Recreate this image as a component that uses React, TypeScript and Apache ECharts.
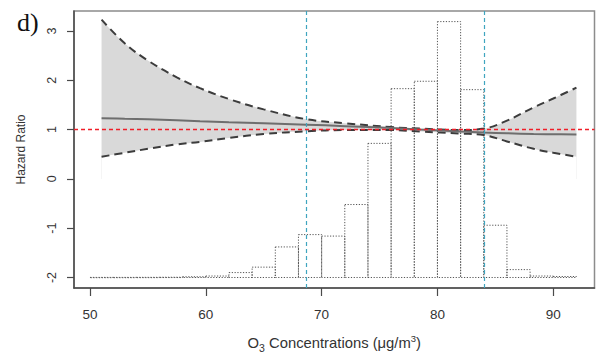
import React, { useEffect, useRef } from "react";
import * as echarts from "echarts";

// Histogram of O3 concentrations (bins of width 2, drawn from baseline -2)
const binStarts = [50, 52, 54, 56, 58, 60, 62, 64, 66, 68, 70, 72, 74, 76, 78, 80, 82, 84, 86, 88, 90];
const binTops = [-1.998, -1.998, -1.997, -1.995, -1.985, -1.97, -1.9, -1.79, -1.38, -1.13, -1.16, -0.52, 0.72, 1.83, 1.98, 3.19, 1.81, -0.94, -1.84, -1.97, -1.98];
const BIN_WIDTH = 2;
const HIST_BASE = -2;

// Hazard ratio curve and its confidence band
const curveX = [51, 53, 55, 57.5, 59.5, 62, 65, 68.7, 72, 76, 78.5, 82, 84, 86, 88.3, 90, 92];
const upperCI = [3.23, 2.75, 2.4, 2.06, 1.84, 1.62, 1.41, 1.21, 1.13, 1.05, 1.02, 0.99, 1.02, 1.18, 1.45, 1.63, 1.85];
const lowerCI = [0.45, 0.53, 0.61, 0.7, 0.75, 0.83, 0.91, 0.965, 0.99, 0.99, 0.96, 0.92, 0.89, 0.76, 0.61, 0.53, 0.45];
const hazard = [1.23, 1.22, 1.21, 1.19, 1.17, 1.15, 1.13, 1.1, 1.07, 1.03, 1.0, 0.96, 0.94, 0.925, 0.91, 0.905, 0.9];

const xTicks = [50, 60, 70, 80, 90];
const yTicks = [-2, -1, 0, 1, 2, 3];
const cutoffs = [68.7, 84.0];
const refHR = 1;

const X_MIN = 48.62;
const X_MAX = 93.56;
const Y_MIN = -2.213;
const Y_MAX = 3.405;

const FONT = '"Liberation Sans", Arial, Helvetica, sans-serif';

const pairs = (ys: number[]) => curveX.map((x, i) => [x, ys[i]]);

export default function App() {
  const ref = useRef<HTMLDivElement>(null);
  useEffect(() => {
    document.body.style.margin = "0";
    const chart = echarts.init(ref.current!, undefined, { renderer: "svg" });
    const option: any = {
      animation: false,
      backgroundColor: "#ffffff",
      grid: {
        left: 74,
        top: 11,
        width: 520.5,
        height: 277.5,
        show: true,
        borderColor: "#8c8c8c",
        borderWidth: 1.5,
        backgroundColor: "transparent",
      },
      xAxis: {
        type: "value",
        min: X_MIN,
        max: X_MAX,
        axisLine: { show: true, onZero: false, lineStyle: { color: "#4a4a4a", width: 1.5 } },
        axisTick: { show: true, length: 8, customValues: xTicks, lineStyle: { color: "#4a4a4a", width: 1.2 } },
        axisLabel: { customValues: xTicks, margin: 19, fontSize: 13.5, color: "#333", fontFamily: FONT },
        splitLine: { show: false },
        name: "O{sub|3} Concentrations (μg/m{sup|3})",
        nameLocation: "middle",
        nameGap: 45,
        nameTextStyle: {
          fontSize: 14.8,
          color: "#333",
          fontFamily: FONT,
          lineHeight: 20,
          rich: {
            sub: { fontSize: 10.5, lineHeight: 12, verticalAlign: "bottom", color: "#333", fontFamily: FONT },
            sup: { fontSize: 9.5, lineHeight: 12, verticalAlign: "top", color: "#333", fontFamily: FONT },
          },
        },
      },
      yAxis: {
        type: "value",
        min: Y_MIN,
        max: Y_MAX,
        axisLine: { show: true, onZero: false, lineStyle: { color: "#4a4a4a", width: 1.5 } },
        axisTick: { show: true, length: 7, customValues: yTicks, lineStyle: { color: "#4a4a4a", width: 1.2 } },
        axisLabel: { customValues: yTicks, rotate: 90, margin: 16, fontSize: 12.5, color: "#333", fontFamily: FONT },
        splitLine: { show: false },
        name: "Hazard Ratio",
        nameLocation: "middle",
        nameRotate: 90,
        nameGap: 47,
        nameMoveOverlap: false,
        nameTextStyle: { fontSize: 12, color: "#333", fontFamily: FONT },
      },
      graphic: [
        {
          type: "text",
          x: 17,
          y: 9,
          style: { text: "d)", font: '26px "Liberation Serif", "Times New Roman", serif', fill: "#111", verticalAlign: "top" },
        },
      ],
      series: [
        {
          name: "upperBand",
          type: "line",
          z: 1,
          data: pairs(upperCI),
          smooth: 0.4,
          symbol: "none",
          lineStyle: { width: 0, opacity: 0 },
          areaStyle: { color: "#d9d9d9", opacity: 1 },
          silent: true,
        },
        {
          name: "lowerBand",
          type: "line",
          z: 1,
          data: pairs(lowerCI),
          smooth: 0.4,
          symbol: "none",
          lineStyle: { width: 0, opacity: 0 },
          areaStyle: { color: "#ffffff", opacity: 1 },
          silent: true,
        },
        {
          name: "histogram",
          type: "custom",
          z: 2,
          data: binStarts.map((b, i) => [b, binTops[i]]),
          encode: { x: 0, y: 1 },
          renderItem: (params: any, api: any) => {
            const x0 = api.value(0);
            const top = api.value(1);
            const p0 = api.coord([x0, HIST_BASE]);
            const p1 = api.coord([x0 + BIN_WIDTH, top]);
            return {
              type: "rect",
              shape: { x: p0[0], y: p1[1], width: p1[0] - p0[0], height: Math.max(p0[1] - p1[1], 0.3) },
              style: { fill: "none", stroke: "#555", lineWidth: 1, lineDash: [1.2, 1.6] },
            };
          },
          silent: true,
        },
        {
          name: "upper",
          type: "line",
          z: 3,
          data: pairs(upperCI),
          smooth: 0.4,
          symbol: "none",
          lineStyle: { color: "#3c3c3c", width: 2, type: [8, 5] },
          silent: true,
        },
        {
          name: "lower",
          type: "line",
          z: 3,
          data: pairs(lowerCI),
          smooth: 0.4,
          symbol: "none",
          lineStyle: { color: "#3c3c3c", width: 2, type: [8, 5] },
          silent: true,
        },
        {
          name: "hazard",
          type: "line",
          z: 4,
          data: pairs(hazard),
          smooth: 0.4,
          symbol: "none",
          lineStyle: { color: "#6e6e6e", width: 2 },
          silent: true,
          markLine: {
            silent: true,
            symbol: ["none", "none"],
            label: { show: false },
            lineStyle: { color: "#3fa5bf", width: 1.2, type: [4, 3], opacity: 1 },
            emphasis: { disabled: true },
            data: cutoffs.map((c) => ({ xAxis: c })),
          },
        },
        {
          name: "reference",
          type: "line",
          z: 5,
          data: [
            [X_MIN, refHR],
            [X_MAX, refHR],
          ],
          symbol: "none",
          color: "#f01e28",
          lineStyle: { color: "#f01e28", width: 1.5, type: [4, 3] },
          silent: true,
        },
      ],
    };
    chart.setOption(option);
    return () => chart.dispose();
  }, []);
  return <div ref={ref} style={{ width: 596, height: 358 }} />;
}
